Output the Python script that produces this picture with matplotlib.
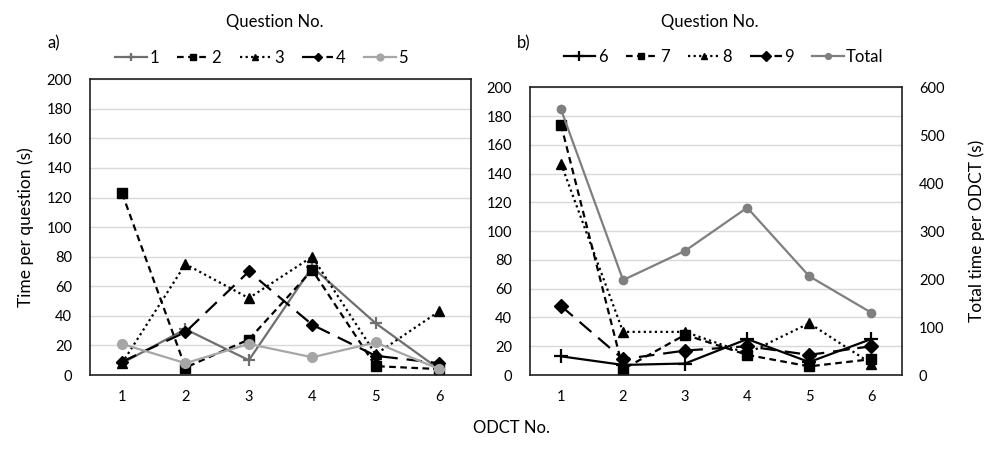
#!/usr/bin/env python3
# -*- coding: utf-8 -*-

import matplotlib
matplotlib.use("Agg")
import matplotlib.pyplot as plt

plt.rcParams['font.family'] = ['Lato', 'DejaVu Sans']

odct = [1, 2, 3, 4, 5, 6]

# panel a) questions 1-5
q1 = [8, 31, 10, 73, 35, 4]
q2 = [123, 5, 24, 71, 6, 4]
q3 = [8, 75, 52, 80, 14, 43]
q4 = [9, 29, 70, 34, 13, 8]
q5 = [21, 8, 21, 12, 22, 4]

# panel b) questions 6-9 and total (right axis)
q6 = [13, 7, 8, 25, 9, 25]
q7 = [174, 4, 28, 14, 6, 11]
q8 = [147, 30, 30, 15, 36, 8]
q9 = [48, 11, 17, 20, 14, 20]
total = [554, 198, 259, 349, 206, 130]

labels_a = ['1', '2', '3', '4', '5']
labels_b = ['6', '7', '8', '9', 'Total']

black = '#000000'
dgray = '#6f6f6f'
lgray = '#a6a6a6'
mgray = '#7f7f7f'

styles = [
    dict(color=dgray, ls='-', marker='+', ms=9, mew=1.6),
    dict(color=black, ls=(0, (3, 2)), marker='s', ms=7),
    dict(color=black, ls=(0, (1, 1.5)), marker='^', ms=7),
    dict(color=black, ls=(0, (7, 4)), marker='D', ms=6),
    dict(color=lgray, ls='-', marker='o', ms=7),
]
styles_b = [
    dict(color=black, ls='-', marker='+', ms=10, mew=1.6),
    dict(color=black, ls=(0, (3, 2)), marker='s', ms=7),
    dict(color=black, ls=(0, (1, 1.5)), marker='^', ms=7),
    dict(color=black, ls=(0, (7, 4)), marker='D', ms=7),
    dict(color=mgray, ls='-', marker='o', ms=6),
]

fig = plt.figure(figsize=(9.84, 4.55), dpi=100)
axa = fig.add_axes([0.0918, 0.1758, 0.3866, 0.650])
axb = fig.add_axes([0.5386, 0.1758, 0.3784, 0.6323])

tick_fs = 10.5
text_fs = 12


def style_axis(ax):
    ax.set_ylim(0, 200)
    ax.set_yticks(range(0, 201, 20))
    ax.set_xlim(0.5, 6.5)
    ax.set_xticks(odct)
    ax.grid(axis='y', color='#d9d9d9', lw=1)
    ax.set_axisbelow(True)
    ax.tick_params(length=0, labelsize=tick_fs)
    ax.tick_params(axis='y', pad=13)
    ax.tick_params(axis='x', pad=11)
    for s in ax.spines.values():
        s.set_color('#202020')
        s.set_linewidth(1.2)


style_axis(axa)
style_axis(axb)

for ys, lab, st in zip([q1, q2, q3, q4, q5], labels_a, styles):
    axa.plot(odct, ys, lw=1.6, label=lab, **st)

hb = []
for ys, lab, st in zip([q6, q7, q8, q9], labels_b[:4], styles_b[:4]):
    hb += axb.plot(odct, ys, lw=1.6, label=lab, **st)

axr = axb.twinx()
hb += axr.plot(odct, total, lw=1.6, label=labels_b[4], **styles_b[4])
axr.set_ylim(0, 600)
axr.set_yticks(range(0, 601, 100))
axr.tick_params(length=0, labelsize=tick_fs, pad=12)
for s in axr.spines.values():
    s.set_visible(False)

axa.set_ylabel('Time per question (s)', fontsize=12.5, labelpad=9)
axr.set_ylabel('Total time per ODCT (s)', fontsize=12.5, labelpad=17)

leg_kw = dict(ncol=5, frameon=False, loc='lower center', fontsize=text_fs,
              handlelength=1.9, columnspacing=1.1, handletextpad=0.15,
              markerscale=0.7)
axa.legend(bbox_to_anchor=(0.45, 0.995), **leg_kw)
axb.legend(handles=hb, bbox_to_anchor=(0.52, 1.025), **leg_kw)

fig.text(0.279, 0.952, 'Question No.', fontsize=text_fs, ha='center', va='center')
fig.text(0.721, 0.952, 'Question No.', fontsize=text_fs, ha='center', va='center')
fig.text(0.055, 0.905, 'a)', fontsize=text_fs, ha='center', va='center')
fig.text(0.532, 0.905, 'b)', fontsize=text_fs, ha='center', va='center')
fig.text(0.52, 0.06, 'ODCT No.', fontsize=text_fs, ha='center', va='center')

fig.savefig('out.png', dpi=100)
